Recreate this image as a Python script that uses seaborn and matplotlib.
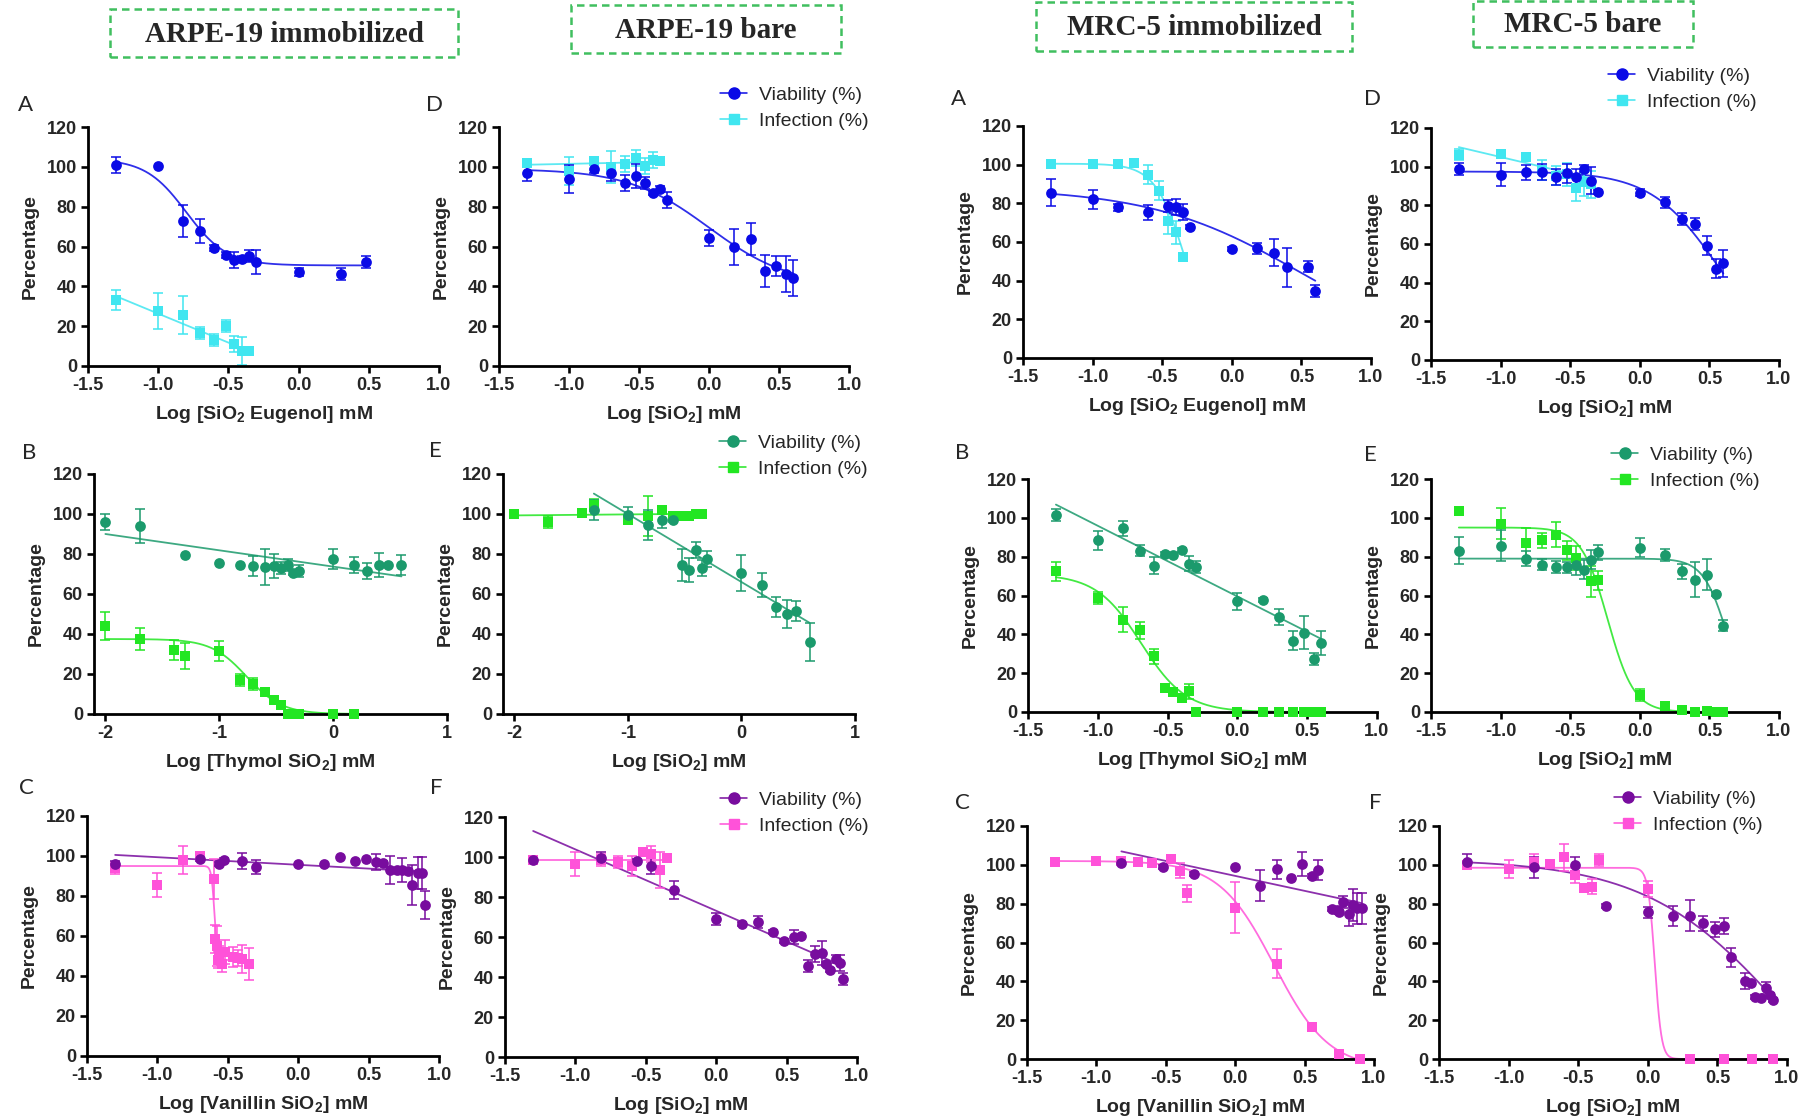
import numpy as np
import pandas as pd
import matplotlib
matplotlib.use("Agg")
import matplotlib.pyplot as plt
from matplotlib.lines import Line2D
from matplotlib.patches import Rectangle
import seaborn as sns

# ---------------- data ----------------
# fits: ("4pl", top, bottom, logIC50, hill) or ("lin", slope, intercept)

# ARPE-19 immobilized, A (eugenol)
arpeA_via_x = [-1.3, -1.0, -0.82, -0.7, -0.6, -0.52, -0.46, -0.4, -0.35, -0.3, 0.0, 0.3, 0.48]
arpeA_via_y = [101, 100.4, 72.8, 67.6, 59.4, 55.6, 53, 53.9, 55, 52.2, 47.2, 46, 52.2]
arpeA_via_e = [4, 0, 8, 6, 1.5, 1.5, 4, 1.5, 3, 6, 2, 3, 3]
arpeA_inf_x = [-1.3, -1.0, -0.82, -0.7, -0.6, -0.52, -0.46, -0.4, -0.35]
arpeA_inf_y = [33.3, 27.6, 25.6, 16.7, 12.9, 19.9, 11.2, 7.4, 7.4]
arpeA_inf_e = [5, 9, 9.5, 3, 3, 3, 4, 7, 1]
arpeA_via_fit = ("4pl", 104, 50.5, -0.8, 3)
arpeA_inf_fit = ("lin", -29.1, -2.8)

# ARPE-19 bare, D
arpeD_via_x = [-1.3, -1.0, -0.82, -0.7, -0.6, -0.52, -0.46, -0.4, -0.35, -0.3, 0.0, 0.18, 0.3, 0.4, 0.48, 0.55, 0.6]
arpeD_via_y = [97.1, 94, 99, 97, 91.7, 95.2, 91.9, 87, 88.9, 83.2, 64.1, 59.9, 63.8, 47.5, 50.2, 46, 44.2]
arpeD_via_e = [4, 7, 2, 4, 4, 6, 3, 1, 1.5, 4, 4, 9, 8, 8, 5, 9, 9]
arpeD_inf_x = [-1.3, -1.0, -0.82, -0.7, -0.6, -0.52, -0.46, -0.4, -0.35]
arpeD_inf_y = [102, 97.9, 103, 100, 101.3, 104.4, 100.4, 103.6, 102.8]
arpeD_inf_e = [2, 7, 1.5, 8, 4, 4, 4, 4, 1.5]
arpeD_via_fit = ("4pl", 99, 40, 0.0, 1.5)
arpeD_inf_fit = ("lin", 1.5, 103)

# MRC-5 immobilized, A (eugenol)
mrcA_via_x = [-1.3, -1.0, -0.82, -0.6, -0.46, -0.4, -0.35, -0.3, 0.0, 0.18, 0.3, 0.4, 0.55, 0.6]
mrcA_via_y = [85.4, 82, 77.9, 75.3, 78.7, 78.2, 75.5, 67.9, 56.4, 56.7, 54.5, 46.9, 47.3, 34.8]
mrcA_via_e = [7, 5, 2, 4, 3, 4, 4, 1, 1, 3, 7, 10, 3, 3]
mrcA_inf_x = [-1.3, -1.0, -0.82, -0.7, -0.6, -0.52, -0.46, -0.4, -0.35]
mrcA_inf_y = [100.2, 100.6, 100.2, 100.7, 94.9, 86.5, 71, 65, 52]
mrcA_inf_e = [1, 1, 1, 1, 5, 5, 7, 6, 1.5]
mrcA_via_fit = ("4pl", 88, 0, 0.5, 0.8)
mrcA_inf_fit = ("4pl", 100.5, 0, -0.33, 4)

# MRC-5 bare, D
mrcD_via_x = [-1.3, -1.0, -0.82, -0.7, -0.6, -0.52, -0.46, -0.4, -0.35, -0.3, 0.0, 0.18, 0.3, 0.4, 0.48, 0.55, 0.6]
mrcD_via_y = [98.7, 95.9, 97, 97.3, 94.7, 96.5, 94.7, 99, 92.8, 87, 86.6, 81.5, 72.9, 70.3, 59.1, 47.3, 50]
mrcD_via_e = [3, 6, 4, 4, 4, 5, 4, 2, 7, 1, 2, 3, 3, 3, 5, 5, 7]
mrcD_inf_x = [-1.3, -1.0, -0.82, -0.7, -0.6, -0.52, -0.46, -0.4, -0.35]
mrcD_inf_y = [106.2, 106.5, 104.9, 98.2, 95.4, 96, 89.2, 92, 91]
mrcD_inf_e = [3, 1.5, 1.5, 5, 5, 6, 7, 7, 7]
mrcD_via_fit = ("4pl", 97.5, 0, 0.56, 1.8)
mrcD_inf_fit = ("lin", -17, 88)

# ARPE-19 immobilized, B (thymol)
arpeB_via_x = [-2.0, -1.7, -1.3, -1.0, -0.82, -0.7, -0.6, -0.52, -0.46, -0.4, -0.35, -0.3, 0.0, 0.18, 0.3, 0.4, 0.48, 0.6]
arpeB_via_y = [96, 93.8, 79.7, 75.5, 74.7, 74.2, 73.3, 73.8, 73, 74.7, 70.5, 71.3, 77.7, 74.3, 71.3, 74.7, 74.7, 74.3]
arpeB_via_e = [4, 8.5, 0, 0, 0, 5, 9, 6, 3, 3, 1, 3, 5, 4, 4, 6, 0, 5]
arpeB_inf_x = [-2.0, -1.7, -1.4, -1.3, -1.0, -0.82, -0.7, -0.6, -0.52, -0.46, -0.4, -0.35, -0.3, 0.0, 0.18]
arpeB_inf_y = [43.8, 37.5, 31.8, 28.8, 31.3, 17.2, 15.2, 10.8, 7.2, 4.7, 0, 0, 0, 0, 0]
arpeB_inf_e = [7, 5.5, 5, 6.5, 5, 3, 3, 1.5, 2, 2, 0, 0, 0, 0, 0]
arpeB_via_fit = ("lin", -8.15, 73.7)
arpeB_inf_fit = ("4pl", 37.5, 0, -0.76, 2.8)

# ARPE-19 bare, E
arpeE_via_x = [-1.3, -1.0, -0.82, -0.7, -0.6, -0.52, -0.46, -0.4, -0.35, -0.3, 0.0, 0.18, 0.3, 0.4, 0.48, 0.6]
arpeE_via_y = [102.2, 99.7, 94.5, 97.2, 96.8, 74.3, 71.8, 81.8, 73, 77.5, 70.3, 64.7, 53.5, 50, 51.7, 35.8]
arpeE_via_e = [5, 4, 7.5, 4, 1, 8, 6, 4, 4, 4, 9, 6, 5, 7, 5, 9.5]
arpeE_inf_x = [-2.0, -1.7, -1.4, -1.3, -1.0, -0.82, -0.7, -0.6, -0.52, -0.46, -0.4, -0.35]
arpeE_inf_y = [100, 96, 100.5, 104.7, 96.8, 98.8, 102.2, 99.2, 99, 99.2, 99.8, 100.2]
arpeE_inf_e = [1, 3, 1, 3, 1.5, 10, 1.5, 1, 1, 1, 1, 1]
arpeE_via_fit = ("lin", -34, 66)
arpeE_inf_fit = ("lin", 0.5, 100.3)

# MRC-5 immobilized, B (thymol)
mrcB_via_x = [-1.3, -1.0, -0.82, -0.7, -0.6, -0.52, -0.46, -0.4, -0.35, -0.3, 0.0, 0.18, 0.3, 0.4, 0.48, 0.55, 0.6]
mrcB_via_y = [101.6, 88.4, 94.6, 83.1, 75.4, 81.5, 81, 83.3, 76.4, 74.7, 57, 57.9, 48.8, 36.7, 40.7, 27.3, 35.5]
mrcB_via_e = [3, 5, 4, 3, 4.5, 1, 1, 1, 4, 3, 4.5, 1, 4, 5, 8.5, 3, 6]
mrcB_inf_x = [-1.3, -1.0, -0.82, -0.7, -0.6, -0.52, -0.46, -0.4, -0.35, -0.3, 0.0, 0.18, 0.3, 0.4, 0.48, 0.52, 0.55, 0.58, 0.6]
mrcB_inf_y = [72.4, 58.7, 47.6, 42.1, 28.7, 12.4, 10.1, 7.2, 10.6, 0, 0, 0, 0, 0, 0, 0, 0, 0, 0]
mrcB_inf_e = [5, 3, 6.5, 4.5, 4, 1, 1, 1, 4, 0, 0, 0, 0, 0, 0, 0, 0, 0, 0]
mrcB_via_fit = ("lin", -36.4, 59.5)
mrcB_inf_fit = ("4pl", 71, 0, -0.69, 2.7)

# MRC-5 bare, E
mrcE_via_x = [-1.3, -1.0, -0.82, -0.7, -0.6, -0.52, -0.46, -0.4, -0.35, -0.3, 0.0, 0.18, 0.3, 0.4, 0.48, 0.55, 0.6]
mrcE_via_y = [83.1, 85.7, 79, 75.9, 74.8, 74.5, 75.5, 73.3, 78.5, 82.2, 84.6, 80.9, 72.4, 68.2, 70.7, 60.8, 44.5]
mrcE_via_e = [7, 8, 4, 3, 3, 3, 5, 5, 5, 4, 5, 3, 4, 9, 8, 1, 3]
mrcE_inf_x = [-1.3, -1.0, -0.82, -0.7, -0.6, -0.52, -0.46, -0.35, -0.3, 0.0, 0.18, 0.3, 0.4, 0.48, 0.55, 0.58, 0.6]
mrcE_inf_y = [103.7, 97, 87, 88.4, 91.3, 83.3, 79.3, 67.3, 67.8, 8.9, 3.3, 0.9, 0, 0.7, 0, 0, 0]
mrcE_inf_e = [1, 8, 8, 4, 6.5, 5, 6, 8, 5, 3, 1, 0, 0, 0, 0, 0, 0]
mrcE_via_fit = ("4pl", 79, 0, 0.63, 5)
mrcE_inf_fit = ("4pl", 95, 0, -0.23, 4.6)

# ARPE-19 immobilized, C (vanillin)
arpeC_via_x = [-1.3, -0.7, -0.56, -0.53, -0.4, -0.3, 0.0, 0.18, 0.3, 0.4, 0.48, 0.55, 0.6, 0.65, 0.7, 0.74, 0.78, 0.81, 0.85, 0.88, 0.9]
arpeC_via_y = [96, 98.5, 96, 98, 97.5, 94.5, 96, 96, 99.7, 97.5, 98.3, 96.8, 96.3, 93, 93, 93, 92.5, 85.5, 91.7, 91.7, 75.5]
arpeC_via_e = [1.5, 1, 1, 1, 4, 3.5, 0, 0, 0, 0, 0, 4, 1, 7, 1, 6, 1, 10, 8, 8, 7]
arpeC_inf_x = [-1.3, -1.0, -0.82, -0.7, -0.6, -0.59, -0.58, -0.57, -0.56, -0.54, -0.52, -0.46, -0.43, -0.4, -0.35]
arpeC_inf_y = [94, 85.5, 98, 100, 88.5, 58.5, 55, 48, 51, 46, 52, 49.5, 49, 48.5, 46]
arpeC_inf_e = [3, 6, 7, 1.5, 10, 7, 10, 4, 4, 4, 6, 5, 4, 7, 8]
arpeC_via_fit = ("lin", -3.8, 95.6)
arpeC_inf_fit = ("4pl", 95, 48, -0.595, 40)

# ARPE-19 bare, F
arpeF_via_x = [-1.3, -0.82, -0.56, -0.46, -0.3, 0.0, 0.18, 0.3, 0.4, 0.48, 0.55, 0.6, 0.65, 0.7, 0.75, 0.78, 0.81, 0.85, 0.88, 0.9]
arpeF_via_y = [98.7, 99.5, 98, 95.3, 83.7, 69, 66.7, 67.5, 62.5, 58, 60, 60.3, 45.5, 51.7, 52, 46.3, 43.7, 49.2, 47, 38.8]
arpeF_via_e = [1, 3, 1, 4, 4.5, 3, 1, 3, 1, 1, 3.5, 1, 3, 4, 6, 1, 1, 2, 4, 3]
arpeF_inf_x = [-1.3, -1.0, -0.82, -0.7, -0.6, -0.52, -0.46, -0.4, -0.35]
arpeF_inf_y = [98.3, 96.3, 98.7, 97.5, 95.3, 102.5, 101.7, 93.7, 99.7]
arpeF_inf_e = [2, 6, 3, 3, 5, 1, 4, 9, 1]
arpeF_via_fit = ("lin", -30.7, 73.1)
arpeF_inf_fit = ("lin", 0, 98.5)

# MRC-5 immobilized, C (vanillin)
mrcC_via_x = [-0.82, -0.52, -0.3, 0.0, 0.18, 0.3, 0.4, 0.48, 0.55, 0.6, 0.7, 0.73, 0.75, 0.78, 0.82, 0.85, 0.88, 0.91]
mrcC_via_y = [101.1, 99.1, 95.3, 99.1, 89.3, 97.7, 93.4, 100.5, 94.3, 97.3, 77.1, 76.7, 75.9, 81, 74.7, 79.3, 77.6, 77.6]
mrcC_via_e = [1, 1, 1, 0, 8, 5, 0, 6, 1, 5, 1, 1, 1, 3, 6, 8, 8, 8]
mrcC_inf_x = [-1.3, -1.0, -0.82, -0.7, -0.6, -0.46, -0.4, -0.35, 0.0, 0.3, 0.55, 0.75, 0.9]
mrcC_inf_y = [101.3, 102.1, 102.1, 101.6, 100.8, 102.8, 97, 85.3, 78, 49, 16.3, 2.6, 0]
mrcC_inf_e = [1, 1, 1, 1, 1, 1.5, 4, 4.5, 13, 7.5, 2, 1, 0]
mrcC_via_fit = ("lin", -15.4, 94.3)
mrcC_inf_fit = ("4pl", 102, -5, 0.28, 2.2)

# MRC-5 bare, F
mrcF_via_x = [-1.3, -0.82, -0.52, -0.3, 0.0, 0.18, 0.3, 0.4, 0.48, 0.55, 0.6, 0.7, 0.74, 0.77, 0.81, 0.85, 0.88, 0.9]
mrcF_via_y = [101.6, 98.7, 99.9, 78.8, 75.5, 73.6, 73.8, 69.9, 66.8, 68.5, 52.4, 40.3, 39, 32.1, 31.2, 36.4, 33, 30.4]
mrcF_via_e = [4, 5.5, 4, 1, 3, 5, 8, 4, 4, 4, 5, 4, 1, 1, 1, 3, 1, 1]
mrcF_inf_x = [-1.3, -1.0, -0.82, -0.7, -0.6, -0.52, -0.46, -0.4, -0.35, 0.0, 0.3, 0.55, 0.75, 0.9]
mrcF_inf_y = [100, 97.9, 101.6, 100.3, 103.9, 94.8, 87.9, 88.8, 102.5, 87.6, 0, 0, 0, 0]
mrcF_inf_e = [2, 4.5, 4, 1, 7, 4, 1, 4, 3, 4, 0, 0, 0, 0]
mrcF_via_fit = ("4pl", 103, -60, 1.025, 0.85)
mrcF_inf_fit = ("4pl", 98.5, 0, 0.05, 18)

ticks_15 = [-1.5, -1.0, -0.5, 0.0, 0.5, 1.0]
ticklabels_15 = ["-1.5", "-1.0", "-0.5", "0.0", "0.5", "1.0"]
ticks_2 = [-2, -1, 0, 1]
ticklabels_2 = ["-2", "-1", "0", "1"]
yticks = [0, 20, 40, 60, 80, 100, 120]

headers = ["ARPE-19 immobilized", "ARPE-19 bare", "MRC-5 immobilized", "MRC-5 bare"]
legend_labels = ["Viability (%)", "Infection (%)"]

# colours
blue, cyan = "#0A0AE6", "#40E6F0"
teal, lime = "#1B9A6C", "#22E622"
purple, pink = "#780C9E", "#FF52D9"

# ---------------- layout (pixels) ----------------
W, H = 1815, 1118

sns.set_style("ticks")
plt.rcParams["font.family"] = ["Liberation Sans", "DejaVu Sans"]
plt.rcParams["mathtext.fontset"] = "custom"
plt.rcParams["mathtext.rm"] = "Liberation Sans:bold"
plt.rcParams["mathtext.it"] = "Liberation Sans:bold"
plt.rcParams["mathtext.bf"] = "Liberation Sans:bold"
plt.rcParams["mathtext.default"] = "rm"

fig = plt.figure(figsize=(W / 100, H / 100), dpi=100)


def fx(x):
    return x / W


def fy(y):
    return 1 - y / H


def curve(fit, x):
    if fit[0] == "lin":
        return fit[1] * x + fit[2]
    top, bottom, ec, hill = fit[1:]
    return bottom + (top - bottom) / (1 + 10 ** ((x - ec) * hill))


def draw_series(ax, x, y, e, fit, color, marker, s):
    df = pd.DataFrame({"x": x, "y": y, "e": e})
    xs = np.linspace(df.x.min(), df.x.max(), 800)
    sns.lineplot(x=xs, y=curve(fit, xs), color=color, lw=1.3, ax=ax,
                 estimator=None, sort=False, zorder=2, alpha=0.85)
    bars = df[df.e > 0]
    ax.errorbar(bars.x, bars.y, yerr=bars.e, fmt="none", ecolor=color,
                elinewidth=1.1, capsize=3.4, capthick=1.1, zorder=2.5)
    sns.scatterplot(data=df, x="x", y="y", color=color, marker=marker, s=s,
                    linewidth=0, ax=ax, zorder=3, clip_on=False)


eug = r"Log [SiO$_2$ Eugenol] mM"
thy = r"Log [Thymol SiO$_2$] mM"
van = r"Log [Vanillin SiO$_2$] mM"
bare = r"Log [SiO$_2$] mM"

panels = [
    # rect(l,t,r,b), letter, letter pos, xlabel, series key, colours, legend pos
    ((88, 127, 439, 366), "A", (26, 105), eug, "arpeA", (blue, cyan), None),
    ((499, 127, 849, 366), "D", (435, 105), bare, "arpeD", (blue, cyan), (720, 98)),
    ((1023, 126, 1371, 358), "A", (959, 99), eug, "mrcA", (blue, cyan), None),
    ((1431, 128, 1779, 360), "D", (1372, 99), bare, "mrcD", (blue, cyan), (1608, 79)),
    ((94, 474, 447, 714), "B", (29, 453), thy, "arpeB", (teal, lime), None),
    ((503, 474, 855, 714), "E", (435, 451), bare, "arpeE", (teal, lime), (719, 446)),
    ((1028, 479, 1377, 712), "B", (962, 453), thy, "mrcB", (teal, lime), None),
    ((1431, 479, 1779, 712), "E", (1370, 455), bare, "mrcE", (teal, lime), (1611, 458)),
    ((87, 816, 439, 1056), "C", (26, 788), van, "arpeC", (purple, pink), None),
    ((505, 817, 857, 1057), "F", (436, 788), bare, "arpeF", (purple, pink), (720, 803)),
    ((1027, 826, 1374, 1059), "C", (962, 803), van, "mrcC", (purple, pink), None),
    ((1439, 826, 1787, 1059), "F", (1375, 803), bare, "mrcF", (purple, pink), (1614, 802)),
]

g = globals()
for rect, letter, lpos, xlabel, key, (cv, ci), legpos in panels:
    l, t, r, b = rect
    ax = fig.add_axes([fx(l), fy(b), (r - l) / W, (b - t) / H])
    draw_series(ax, g[key + "_inf_x"], g[key + "_inf_y"], g[key + "_inf_e"],
                g[key + "_inf_fit"], ci, "s", 50)
    draw_series(ax, g[key + "_via_x"], g[key + "_via_y"], g[key + "_via_e"],
                g[key + "_via_fit"], cv, "o", 60)
    if key in ("arpeB", "arpeE"):
        ax.set_xlim(-2.1, 1.0)
        ax.set_xticks(ticks_2)
        ax.set_xticklabels(ticklabels_2, fontweight="bold")
    else:
        ax.set_xlim(-1.5, 1.0)
        ax.set_xticks(ticks_15)
        ax.set_xticklabels(ticklabels_15, fontweight="bold")
    ax.set_ylim(0, 120)
    ax.set_yticks(yticks)
    ax.set_yticklabels([str(v) for v in yticks], fontweight="bold")
    ax.set_xlabel(xlabel, fontsize=14, fontweight="bold", labelpad=7)
    ax.set_ylabel("Percentage", fontsize=14, fontweight="bold", labelpad=6)
    sns.despine(ax=ax)
    for sp in ("left", "bottom"):
        ax.spines[sp].set_linewidth(2.0)
        ax.spines[sp].set_color("black")
    ax.tick_params(direction="out", length=5, width=1.9, labelsize=13,
                   color="black", pad=3)
    ax.set_facecolor("none")
    fig.text(fx(lpos[0]), fy(lpos[1]), letter, fontsize=16, family="Lato",
             ha="center", va="center")
    if legpos is not None:
        handles = [
            Line2D([], [], color=cv, marker="o", markersize=8, lw=1.1),
            Line2D([], [], color=ci, marker="s", markersize=7.5, lw=1.1),
        ]
        fig.legend(handles, legend_labels, loc="upper left",
                   bbox_to_anchor=(fx(legpos[0]), fy(legpos[1] - 12)),
                   frameon=False, fontsize=14, handlelength=1.4,
                   handletextpad=0.6, labelspacing=0.45, borderpad=0,
                   borderaxespad=0)

# header boxes
header_boxes = [(110, 9, 458, 57), (571, 5, 841, 53), (1036, 2, 1352, 51), (1473, 1, 1693, 47)]
for text, (l, t, r, b) in zip(headers, header_boxes):
    fig.patches.append(Rectangle((fx(l), fy(b)), (r - l) / W, (b - t) / H,
                                 transform=fig.transFigure, fill=False,
                                 edgecolor="#40BF5F", lw=1.8,
                                 linestyle=(0, (3, 2))))
    fig.text(fx((l + r) / 2), fy((t + b) / 2 + 1), text, fontsize=21,
             family="Liberation Serif", fontweight="bold", ha="center", va="center")

fig.savefig("out.png", dpi=100)
